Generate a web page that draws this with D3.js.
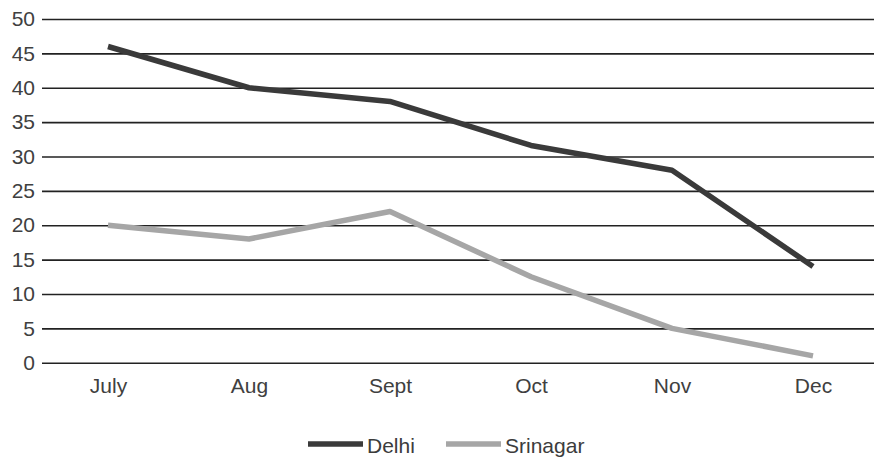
<!DOCTYPE html>
<html>
<head>
<meta charset="utf-8">
<script src="https://cdn.jsdelivr.net/npm/d3@7"></script>
<style>
  body { margin: 0; background: #fff; }
  text { font-family: "Liberation Sans", Arial, sans-serif; fill: #404040; }
</style>
</head>
<body>
<svg id="chart" width="874" height="458"></svg>
<script>
const months = ['July', 'Aug', 'Sept', 'Oct', 'Nov', 'Dec'];
const delhi = [46, 40, 38, 31.6, 28, 14];
const srinagar = [20, 18, 22, 12.5, 5, 1];
const yTicks = [0, 5, 10, 15, 20, 25, 30, 35, 40, 45, 50];
const seriesNames = ['Delhi', 'Srinagar'];
const seriesColors = ['#3a3a3a', '#a6a6a6'];

const svg = d3.select('#chart');
const gridLeft = 42, gridRight = 874;
const fontSize = '21px';

const x = d3.scalePoint().domain(months).range([108, 813]);
const y = d3.scaleLinear().domain([0, 50]).range([362.7, 19]);

// horizontal gridlines
svg.append('g')
  .attr('transform', `translate(${gridRight},0)`)
  .call(d3.axisRight(y).tickValues(yTicks).tickSize(-(gridRight - gridLeft)).tickFormat(''))
  .call(g => g.select('.domain').remove())
  .call(g => g.selectAll('line').attr('stroke', '#222').attr('stroke-width', 1.6));

// y labels
svg.append('g')
  .attr('transform', `translate(${gridLeft},0)`)
  .call(d3.axisLeft(y).tickValues(yTicks).tickSize(0).tickPadding(7))
  .call(g => g.select('.domain').remove())
  .call(g => g.selectAll('text')
    .style('font-size', fontSize)
    .style('font-family', '"Liberation Sans", Arial, sans-serif')
    .attr('fill', '#3c3c3c'));

// x labels
svg.append('g')
  .attr('transform', 'translate(0,362.7)')
  .call(d3.axisBottom(x).tickSize(0).tickPadding(15))
  .call(g => g.select('.domain').remove())
  .call(g => g.selectAll('text')
    .style('font-size', fontSize)
    .style('font-family', '"Liberation Sans", Arial, sans-serif')
    .attr('fill', '#3c3c3c'));

const line = d3.line()
  .x((d, i) => x(months[i]))
  .y(d => y(d));

[delhi, srinagar].forEach((vals, k) => {
  svg.append('path')
    .datum(vals)
    .attr('d', line)
    .attr('fill', 'none')
    .attr('stroke', seriesColors[k])
    .attr('stroke-width', 5.5)
    .attr('stroke-linejoin', 'round');
});

// legend
const legendItems = [{ x: 308 }, { x: 446 }];
const legend = svg.append('g').attr('transform', 'translate(0,444)');
seriesNames.forEach((name, k) => {
  legend.append('line')
    .attr('x1', legendItems[k].x)
    .attr('x2', legendItems[k].x + 55)
    .attr('y1', 0).attr('y2', 0)
    .attr('stroke', seriesColors[k])
    .attr('stroke-width', 5.5);
  legend.append('text')
    .attr('x', legendItems[k].x + 59)
    .attr('y', 9)
    .style('font-size', fontSize)
    .style('fill', '#3c3c3c')
    .text(name);
});
</script>
</body>
</html>
